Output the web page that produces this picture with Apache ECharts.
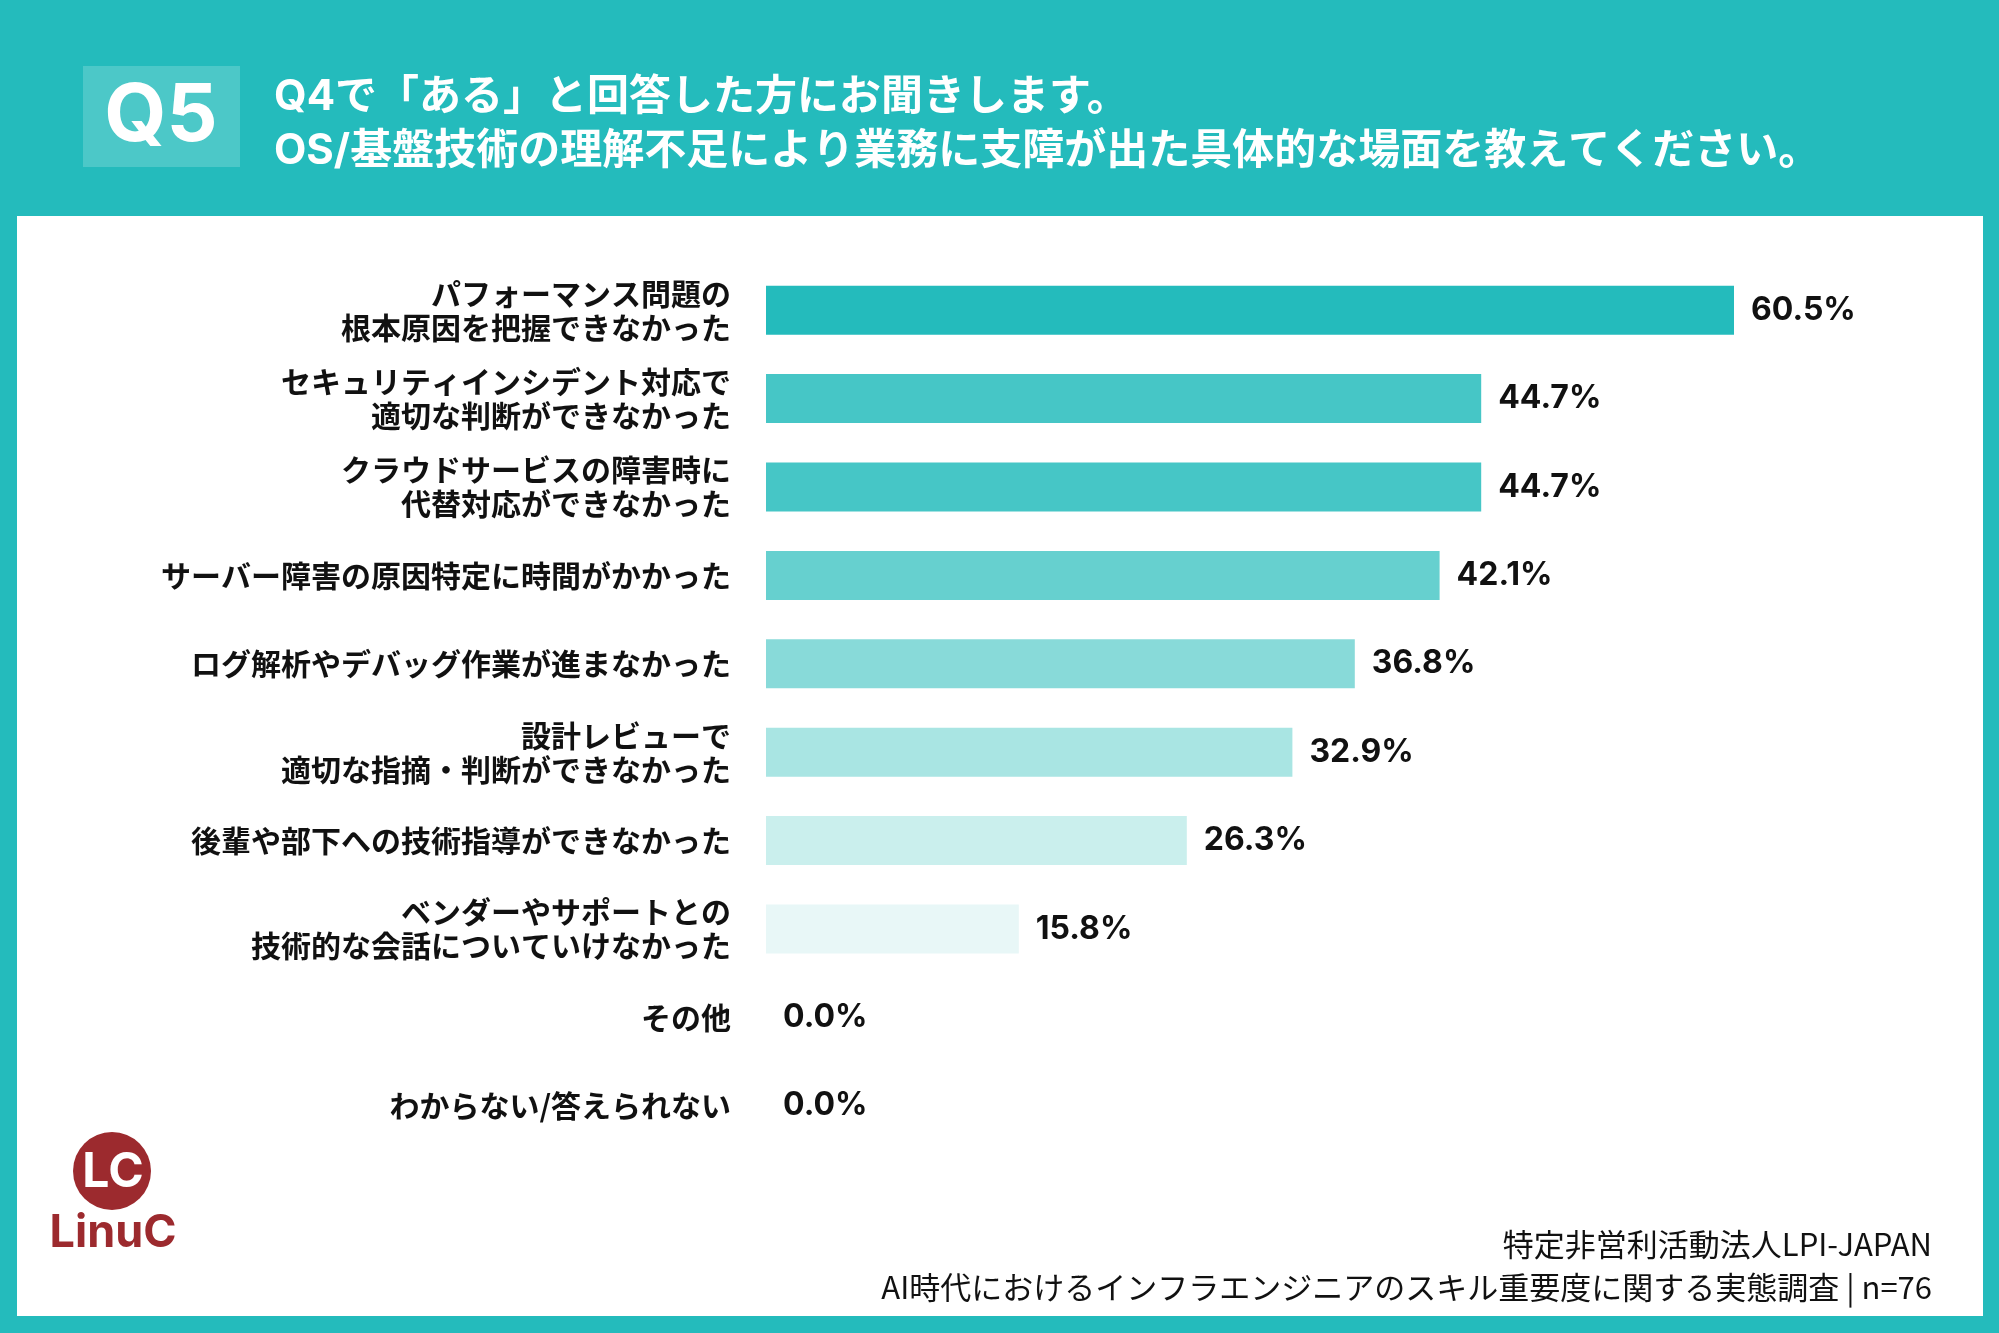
<!DOCTYPE html>
<html>
<head>
<meta charset="utf-8">
<script src="https://cdn.jsdelivr.net/npm/echarts@6/dist/echarts.min.js"></script>
<style>
  html, body { margin: 0; padding: 0; background: #24bbbc; }
  #chart { width: 1999px; height: 1333px; }
</style>
</head>
<body>
<div id="chart"></div>
<script>
// 設問と回答データ
const questionNo = 'Q5';
const titleLines = [
  'Q4で「ある」と回答した方にお聞きします。',
  'OS/基盤技術の理解不足により業務に支障が出た具体的な場面を教えてください。'
];
const categories = [
  'パフォーマンス問題の\n根本原因を把握できなかった',
  'セキュリティインシデント対応で\n適切な判断ができなかった',
  'クラウドサービスの障害時に\n代替対応ができなかった',
  'サーバー障害の原因特定に時間がかかった',
  'ログ解析やデバッグ作業が進まなかった',
  '設計レビューで\n適切な指摘・判断ができなかった',
  '後輩や部下への技術指導ができなかった',
  'ベンダーやサポートとの\n技術的な会話についていけなかった',
  'その他',
  'わからない/答えられない'
];
const values = [60.5, 44.7, 44.7, 42.1, 36.8, 32.9, 26.3, 15.8, 0.0, 0.0];
const barColors = ['#24bbbc', '#46c6c6', '#46c6c6', '#66d0cf', '#88dad9',
  '#a9e5e3', '#caefed', '#e8f7f7', '#e8f7f7', '#e8f7f7'];
const footerLines = [
  '特定非営利活動法人LPI-JAPAN',
  'AI時代におけるインフラエンジニアのスキル重要度に関する実態調査 | n=76'
];

const TEAL = '#24bbbc';
const RED = '#9c2a2e';
const JP = "'Noto Sans CJK JP', sans-serif";
const NUM = "Inter, 'Noto Sans CJK JP', sans-serif";

const chart = echarts.init(document.getElementById('chart'));

let option = {
  backgroundColor: TEAL,
  animation: false,
  grid: {
    left: 766,
    top: 266,
    width: 1200,
    height: 884,
    containLabel: false
  },
  xAxis: {
    type: 'value',
    min: 0,
    max: 75,
    show: false
  },
  yAxis: {
    type: 'category',
    inverse: true,
    data: categories,
    axisLine: { show: false },
    axisTick: { show: false },
    splitLine: { show: false },
    axisLabel: {
      margin: 35,
      color: '#111',
      fontFamily: JP,
      fontWeight: 'bold',
      fontSize: 30,
      lineHeight: 34,
      align: 'right'
    }
  },
  series: [{
    type: 'bar',
    barWidth: 49,
    data: values.map((v, i) => ({
      value: v,
      itemStyle: { color: barColors[i] }
    })),
    label: {
      show: true,
      position: 'right',
      distance: 17,
      color: '#111',
      fontFamily: NUM,
      fontWeight: 'bold',
      fontSize: 32,
      formatter: p => p.value.toFixed(1) + '%'
    }
  }],
  graphic: [
    // 白いパネル
    {
      type: 'rect',
      z: -10,
      shape: { x: 17, y: 216, width: 1966, height: 1100 },
      style: { fill: '#fff' }
    },
    // Q5 ボックス
    {
      type: 'rect',
      shape: { x: 83, y: 66, width: 157, height: 101 },
      style: { fill: '#4cc8c8' }
    },
    {
      type: 'text',
      x: 161, y: 117,
      style: {
        text: questionNo,
        fill: '#fff',
        font: "bold 80px Inter, 'Noto Sans CJK JP', sans-serif",
        align: 'center',
        verticalAlign: 'middle'
      }
    },
    {
      type: 'text',
      x: 274, y: 97,
      style: {
        text: titleLines[0],
        fill: '#fff',
        font: "bold 42px Inter, 'Noto Sans CJK JP', sans-serif",
        verticalAlign: 'middle'
      }
    },
    {
      type: 'text',
      x: 274, y: 151,
      style: {
        text: titleLines[1],
        fill: '#fff',
        font: "bold 42px Inter, 'Noto Sans CJK JP', sans-serif",
        verticalAlign: 'middle'
      }
    },
    // 出典
    {
      type: 'text',
      x: 1932, y: 1244,
      style: {
        text: footerLines[0],
        fill: '#111',
        font: "31px 'Noto Sans CJK JP', sans-serif",
        align: 'right',
        verticalAlign: 'middle'
      }
    },
    {
      type: 'text',
      x: 1932, y: 1287,
      style: {
        text: footerLines[1],
        fill: '#111',
        font: "31px 'Noto Sans CJK JP', sans-serif",
        align: 'right',
        verticalAlign: 'middle'
      }
    },
    // LinuC ロゴ
    {
      type: 'circle',
      shape: { cx: 112, cy: 1171, r: 39 },
      style: { fill: RED }
    },
    {
      type: 'text',
      x: 113, y: 1173,
      style: {
        text: 'LC',
        fill: '#fff',
        font: "bold 48px Inter, sans-serif",
        align: 'center',
        verticalAlign: 'middle'
      }
    },
    {
      type: 'text',
      x: 113, y: 1233,
      style: {
        text: 'LinuC',
        fill: RED,
        font: "bold 45px Inter, sans-serif",
        align: 'center',
        verticalAlign: 'middle'
      }
    }
  ]
};

chart.setOption(option);
</script>
</body>
</html>
